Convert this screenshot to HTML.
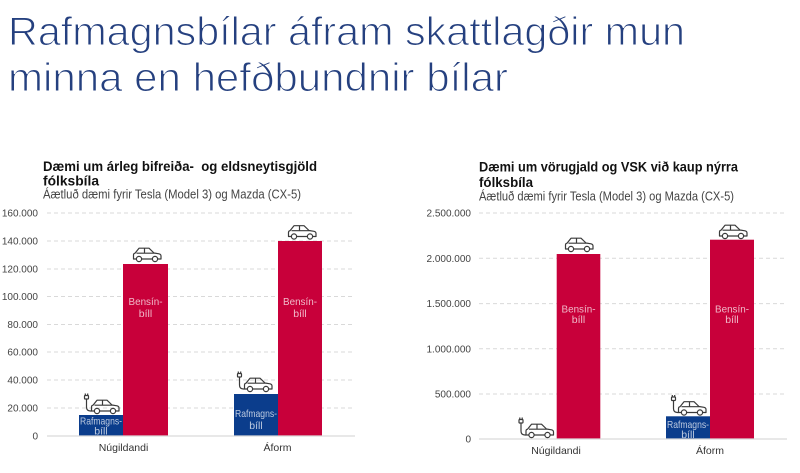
<!DOCTYPE html>
<html><head><meta charset="utf-8"><style>
html,body{margin:0;padding:0;background:#fff;}
svg{display:block;}
text{font-family:"Liberation Sans",sans-serif;}
</style></head><body>
<svg width="800" height="473" viewBox="0 0 800 473" xmlns="http://www.w3.org/2000/svg">
<defs>
<g id="car" fill="none" stroke="#3a3a3a" stroke-width="1.2" stroke-linejoin="round">
<path d="M4.4,12 H1.5 V8 Q1.5,6.5 3,6.2 L7,1.2 H17 L22,6 L27,6.8 Q29,7.3 29,9 V12 H25.6 M20.4,12 H9.6 M4.5,6.2 H22 M12.5,1.2 V6.2"/>
<circle cx="7" cy="12" r="2.6"/>
<circle cx="23" cy="12" r="2.6"/>
</g>
<g id="ecar">
<use href="#car"/>
<g fill="none" stroke="#3a3a3a" stroke-width="1.2">
<rect x="-5.5" y="-3.5" width="4" height="3.5" rx="0.8"/>
<path d="M-4.7,-3.5 V-5.5 M-2.3,-3.5 V-5.5 M-3.5,0 V8 Q-3.5,12 0.5,12 H1.5"/>
</g>
</g>
</defs>
<rect width="800" height="473" fill="#fff"/>

<!-- Main title -->
<g fill="#25407f" stroke="#fff" stroke-width="1.1" font-size="40">
<text x="8" y="45" textLength="677" lengthAdjust="spacingAndGlyphs">Rafmagnsbílar áfram skattlagðir mun</text>
<text x="8" y="91" textLength="500" lengthAdjust="spacingAndGlyphs">minna en hefðbundnir bílar</text>
</g>

<!-- LEFT CHART -->
<text x="43" y="171" font-size="14" font-weight="bold" fill="#111" textLength="274" lengthAdjust="spacingAndGlyphs">Dæmi um árleg bifreiða-&#160; og eldsneytisgjöld</text>
<text x="43" y="185.5" font-size="14" font-weight="bold" fill="#111" textLength="56" lengthAdjust="spacingAndGlyphs">fólksbíla</text>
<text x="43" y="198.5" font-size="12.5" fill="#444" textLength="258" lengthAdjust="spacingAndGlyphs">Áætluð dæmi fyrir Tesla (Model 3) og Mazda (CX-5)</text>

<g stroke="#d9d9d9" stroke-width="1" stroke-dasharray="4,3">
<line x1="47" y1="213" x2="355" y2="213"/>
<line x1="47" y1="241" x2="355" y2="241"/>
<line x1="47" y1="269" x2="355" y2="269"/>
<line x1="47" y1="296.5" x2="355" y2="296.5"/>
<line x1="47" y1="324.5" x2="355" y2="324.5"/>
<line x1="47" y1="352" x2="355" y2="352"/>
<line x1="47" y1="380" x2="355" y2="380"/>
<line x1="47" y1="408" x2="355" y2="408"/>
</g>
<g font-size="10" fill="#444" text-anchor="end">
<text x="38" y="216.5">160.000</text>
<text x="38" y="244.5">140.000</text>
<text x="38" y="272.5">120.000</text>
<text x="38" y="300">100.000</text>
<text x="38" y="328">80.000</text>
<text x="38" y="355.5">60.000</text>
<text x="38" y="383.5">40.000</text>
<text x="38" y="411.5">20.000</text>
<text x="38" y="439.5">0</text>
</g>
<rect x="79" y="415" width="44" height="21" fill="#0b3d8c"/>
<rect x="123" y="264" width="45" height="172" fill="#c8003a"/>
<rect x="234" y="394" width="44" height="42" fill="#0b3d8c"/>
<rect x="278" y="241" width="44" height="195" fill="#c8003a"/>
<line x1="47" y1="436" x2="355" y2="436" stroke="#d9d9d9" stroke-width="1.2"/>

<g font-size="10.5" fill="#fff" fill-opacity="0.72" text-anchor="middle">
<text x="145.5" y="305" textLength="34" lengthAdjust="spacingAndGlyphs">Bensín-</text>
<text x="145.5" y="317">bíll</text>
<text x="300" y="305" textLength="34" lengthAdjust="spacingAndGlyphs">Bensín-</text>
<text x="300" y="317">bíll</text>
<text x="101" y="424.5" textLength="42" lengthAdjust="spacingAndGlyphs">Rafmagns-</text>
<text x="101" y="434.5">bíll</text>
<text x="256" y="417" textLength="42" lengthAdjust="spacingAndGlyphs">Rafmagns-</text>
<text x="256" y="429">bíll</text>
</g>
<use href="#car" x="132" y="247"/>
<use href="#car" x="287" y="224.5"/>
<use href="#ecar" x="90" y="399"/>
<use href="#ecar" x="243" y="377"/>

<g font-size="10.5" fill="#333" text-anchor="middle">
<text x="123.5" y="451">Núgildandi</text>
<text x="277.5" y="451">Áform</text>
</g>

<!-- RIGHT CHART -->
<text x="479" y="171.5" font-size="14" font-weight="bold" fill="#111" textLength="259" lengthAdjust="spacingAndGlyphs">Dæmi um vörugjald og VSK við kaup nýrra</text>
<text x="479" y="187" font-size="14" font-weight="bold" fill="#111" textLength="54" lengthAdjust="spacingAndGlyphs">fólksbíla</text>
<text x="479" y="200.5" font-size="12.5" fill="#444" textLength="255" lengthAdjust="spacingAndGlyphs">Áætluð dæmi fyrir Tesla (Model 3) og Mazda (CX-5)</text>

<g stroke="#d9d9d9" stroke-width="1" stroke-dasharray="4,3">
<line x1="479" y1="213" x2="787" y2="213"/>
<line x1="479" y1="258.3" x2="787" y2="258.3"/>
<line x1="479" y1="303.6" x2="787" y2="303.6"/>
<line x1="479" y1="348.8" x2="787" y2="348.8"/>
<line x1="479" y1="394" x2="787" y2="394"/>
</g>
<g font-size="10" fill="#444" text-anchor="end">
<text x="471" y="216.5">2.500.000</text>
<text x="471" y="262">2.000.000</text>
<text x="471" y="307">1.500.000</text>
<text x="471" y="352.5">1.000.000</text>
<text x="471" y="397.5">500.000</text>
<text x="471" y="442.5">0</text>
</g>
<rect x="556.7" y="254" width="43.6" height="185" fill="#c8003a"/>
<rect x="666" y="416.3" width="44" height="22.7" fill="#0b3d8c"/>
<rect x="710" y="239.7" width="44" height="199.3" fill="#c8003a"/>
<line x1="479" y1="439" x2="787" y2="439" stroke="#d9d9d9" stroke-width="1.2"/>

<g font-size="10.5" fill="#fff" fill-opacity="0.72" text-anchor="middle">
<text x="578.5" y="312.5" textLength="34" lengthAdjust="spacingAndGlyphs">Bensín-</text>
<text x="578.5" y="323">bíll</text>
<text x="732" y="312.5" textLength="34" lengthAdjust="spacingAndGlyphs">Bensín-</text>
<text x="732" y="323">bíll</text>
<text x="688" y="428" textLength="42" lengthAdjust="spacingAndGlyphs">Rafmagns-</text>
<text x="688" y="438">bíll</text>
</g>
<use href="#car" x="564" y="237"/>
<use href="#car" x="718" y="224"/>
<use href="#ecar" x="524.5" y="423"/>
<use href="#ecar" x="677" y="400.5"/>

<g font-size="10.5" fill="#333" text-anchor="middle">
<text x="556" y="454">Núgildandi</text>
<text x="710" y="454">Áform</text>
</g>
</svg>
</body></html>
